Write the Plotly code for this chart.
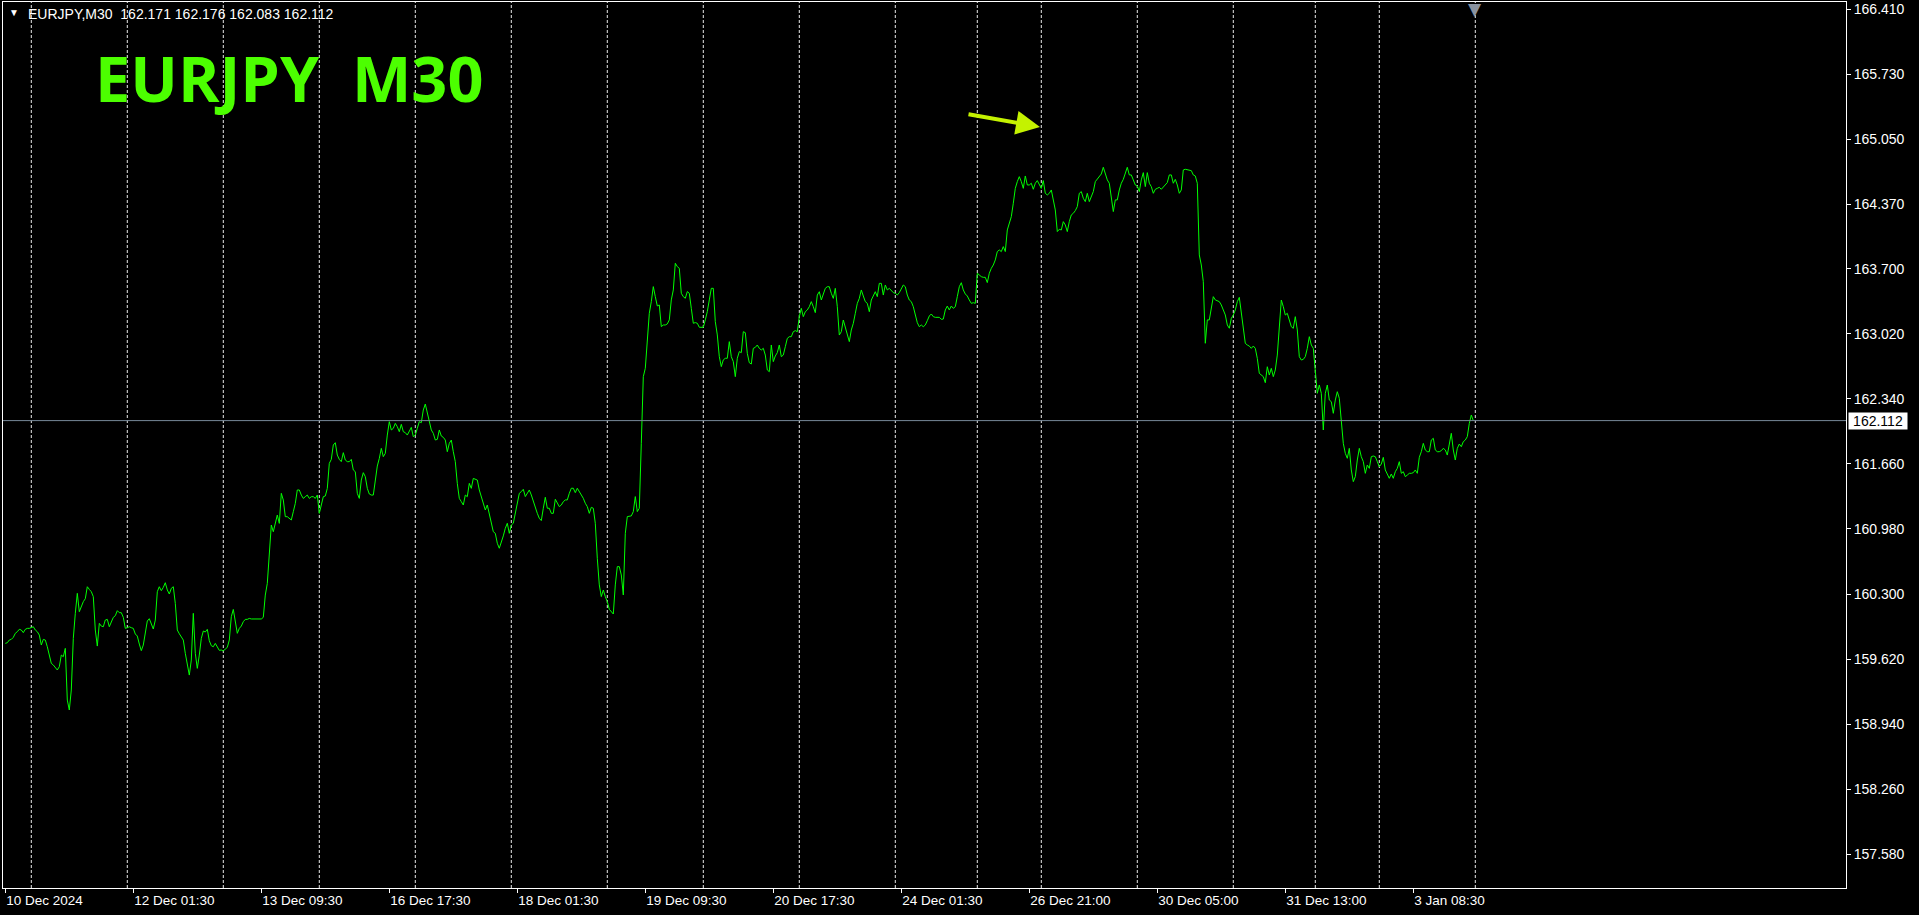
import plotly.graph_objects as go

# ---------------- data ----------------
symbol = "EURJPY"
timeframe = "M30"
last_open, last_high, last_low, last_close = 162.171, 162.176, 162.083, 162.112

# M30 closes, bar by bar (10 Dec 2024 17:30 -> 3 Jan 2025 23:30)
closes = [
    159.784, 159.791, 159.819, 159.826, 159.847, 159.889, 159.906, 159.931, 159.924, 159.896,
    159.931, 159.941, 159.941, 159.951, 159.958, 159.924, 159.906, 159.871, 159.767, 159.826,
    159.819, 159.749, 159.645, 159.575, 159.558, 159.530, 159.506, 159.540, 159.662, 159.645,
    159.732, 159.192, 159.088, 159.297, 159.836, 160.098, 160.307, 160.115, 160.167, 160.220,
    160.251, 160.376, 160.348, 160.324, 160.272, 159.924, 159.756, 159.993, 159.965, 159.958,
    160.028, 160.035, 159.958, 160.018, 160.056, 160.073, 160.126, 160.105, 160.105, 160.056,
    159.941, 159.948, 159.958, 159.948, 159.941, 159.882, 159.861, 159.777, 159.708, 159.767,
    159.917, 160.018, 160.042, 159.993, 159.934, 160.028, 160.324, 160.376, 160.335, 160.369,
    160.418, 160.342, 160.300, 160.359, 160.376, 160.202, 159.924, 159.885, 159.850, 159.819,
    159.680, 159.547, 159.453, 159.610, 160.098, 159.680, 159.523, 159.662, 159.836, 159.913,
    159.903, 159.931, 159.812, 159.760, 159.749, 159.784, 159.749, 159.711, 159.715, 159.704,
    159.725, 159.742, 159.819, 160.063, 160.139, 159.993, 159.889, 159.941, 159.965, 160.011,
    160.035, 160.035, 160.045,
    160.039, 160.039, 160.039, 160.039, 160.039, 160.039, 160.056, 160.289, 160.411, 160.767,
    161.021, 160.951, 161.056, 161.125, 161.038, 161.352, 161.282, 161.108, 161.108, 161.091,
    161.073, 161.160, 161.247, 161.387, 161.387, 161.334, 161.299, 161.317, 161.334, 161.299,
    161.317, 161.317, 161.299, 161.334, 161.143, 161.230, 161.317, 161.324, 161.404, 161.665,
    161.707, 161.857, 161.881, 161.752, 161.707, 161.683, 161.777, 161.700, 161.683, 161.683,
    161.707, 161.596, 161.578, 161.352, 161.299, 161.491, 161.568, 161.526, 161.404, 161.345,
    161.334, 161.334, 161.491, 161.637, 161.717, 161.822, 161.735, 161.770, 161.961, 162.101,
    162.014, 162.031, 162.083, 162.048, 161.996, 162.073, 161.996, 161.986, 161.961, 162.007,
    162.041, 161.944, 161.961, 162.031, 162.101, 162.090, 162.223, 162.285, 162.188, 162.118,
    162.014, 161.979, 161.909, 161.916, 162.014, 161.951, 161.937, 161.909, 161.787, 161.874,
    161.909, 161.787, 161.683, 161.456, 161.299, 161.265, 161.230, 161.334, 161.317, 161.456,
    161.404, 161.508, 161.498, 161.491, 161.387, 161.317, 161.247, 161.178, 161.230, 161.143,
    161.056, 160.951, 160.934,
    160.830, 160.778, 160.837, 160.907, 160.987, 161.039, 160.934, 161.021, 161.039, 161.143,
    161.213, 161.352, 161.370, 161.394, 161.318, 161.352, 161.387, 161.335, 161.265, 161.196,
    161.143, 161.091, 161.067, 161.196, 161.311, 161.196, 161.196, 161.143, 161.143, 161.290,
    161.248, 161.213, 161.230, 161.265, 161.283, 161.283, 161.352, 161.405, 161.405, 161.359,
    161.405, 161.370, 161.324, 161.300, 161.248, 161.213, 161.143, 161.206, 161.196, 161.039,
    160.673, 160.395, 160.273, 160.342, 160.273, 160.220, 160.140, 160.116, 160.091, 160.395,
    160.586, 160.586, 160.499, 160.290, 160.934, 161.109, 161.109, 161.116, 161.161, 161.318,
    161.161, 161.196, 161.875, 162.571, 162.658, 162.972, 163.233, 163.355, 163.512, 163.407,
    163.310, 163.320, 163.094, 163.111, 163.111, 163.122, 163.164, 163.373, 163.477, 163.756,
    163.721, 163.703, 163.442, 163.407, 163.390, 163.460, 163.442, 163.285, 163.129, 163.136,
    163.129, 163.087, 163.087, 163.087, 163.164, 163.251, 163.373, 163.494, 163.494, 163.146,
    163.007, 162.780, 162.676, 162.746, 162.763, 162.763, 162.937, 162.780, 162.728, 162.571,
    162.763, 162.833,
    162.822, 163.041, 163.031, 162.815, 162.717, 162.703, 162.867, 162.877, 162.902, 162.867,
    162.850, 162.867, 162.797, 162.641, 162.623, 162.902, 162.728, 162.787, 162.822, 162.902,
    162.780, 162.797, 162.884, 162.971, 162.989, 162.989, 163.041, 163.052, 163.041, 163.198,
    163.285, 163.198, 163.250, 163.268, 163.302, 163.355, 163.302, 163.240, 163.424, 163.459,
    163.372, 163.424, 163.494, 163.511, 163.511, 163.442, 163.389, 163.494, 163.302, 163.006,
    163.041, 163.163, 163.086, 163.024, 162.937, 163.059, 163.128, 163.233, 163.337, 163.389,
    163.477, 163.414, 163.355, 163.337, 163.250, 163.372, 163.424, 163.459, 163.407, 163.546,
    163.546, 163.424, 163.529, 163.477, 163.494, 163.470, 163.449, 163.442, 163.424, 163.449,
    163.494, 163.529, 163.511, 163.424, 163.372, 163.355, 163.302, 163.215, 163.135, 163.093,
    163.111, 163.093, 163.111, 163.156, 163.205, 163.226, 163.198, 163.191, 163.191, 163.191,
    163.170, 163.173, 163.268, 163.309, 163.268, 163.309, 163.285, 163.302, 163.407, 163.511,
    163.553, 163.477, 163.435, 163.414, 163.372, 163.337, 163.344, 163.337, 163.651, 163.633,
    163.616, 163.609, 163.609,
    163.554, 163.651, 163.703, 163.738, 163.791, 163.878, 163.895, 163.878, 163.930, 163.878,
    164.104, 164.174, 164.243, 164.383, 164.539, 164.609, 164.661, 164.609, 164.539, 164.668,
    164.574, 164.574, 164.592, 164.529, 164.592, 164.620, 164.574, 164.539, 164.620, 164.487,
    164.470, 164.487, 164.522, 164.400, 164.313, 164.087, 164.111, 164.104, 164.191, 164.156,
    164.087, 164.191, 164.261, 164.278, 164.306, 164.348, 164.487, 164.505, 164.435, 164.400,
    164.487, 164.400, 164.452, 164.505, 164.609, 164.633, 164.661, 164.689, 164.759, 164.679,
    164.627, 164.592, 164.435, 164.296, 164.418, 164.418, 164.522, 164.592, 164.633, 164.696,
    164.759, 164.679, 164.679, 164.627, 164.574, 164.564, 164.505, 164.627, 164.703, 164.557,
    164.703, 164.592, 164.557, 164.487, 164.529, 164.539, 164.550, 164.529, 164.550, 164.574,
    164.599, 164.679, 164.679, 164.592, 164.633, 164.574, 164.487, 164.522, 164.731, 164.738,
    164.731, 164.731, 164.724, 164.679, 164.668, 164.592, 163.843, 163.738, 163.564, 162.920,
    163.164, 163.164, 163.303, 163.407, 163.373, 163.366, 163.355, 163.320, 163.275, 163.216,
    163.111, 163.077,
    163.180, 163.215, 163.268, 163.355, 163.400, 163.233, 163.076, 162.919, 162.902, 162.891,
    162.867, 162.891, 162.867, 162.762, 162.606, 162.588, 162.571, 162.508, 162.675, 162.588,
    162.658, 162.571, 162.641, 162.797, 163.128, 163.372, 163.302, 163.215, 163.233, 163.163,
    163.093, 163.076, 163.198, 163.059, 162.780, 162.745, 162.752, 162.780, 162.867, 162.989,
    162.902, 162.867, 162.641, 162.397, 162.484, 162.397, 162.014, 162.397, 162.484, 162.327,
    162.310, 162.188, 162.327, 162.414, 162.345, 162.136, 161.874, 161.770, 161.718, 161.822,
    161.596, 161.474, 161.526, 161.700, 161.822, 161.735, 161.683, 161.561, 161.648, 161.613,
    161.735, 161.742, 161.735, 161.683, 161.630, 161.658, 161.728, 161.596, 161.543, 161.509,
    161.554, 161.509, 161.578, 161.613, 161.683, 161.561, 161.578, 161.526, 161.543, 161.561,
    161.561, 161.568, 161.596, 161.561, 161.728, 161.787, 161.874, 161.805, 161.787, 161.787,
    161.909, 161.927, 161.805, 161.787, 161.787, 161.798, 161.822, 161.805, 161.752, 161.857,
    161.979, 161.805, 161.700, 161.822, 161.867, 161.839, 161.892, 161.909, 161.944, 162.083,
    162.170, 162.112,
]
bar_index = list(range(len(closes)))

time_tick_bars = [0, 64, 128, 192, 256, 320, 384, 448, 512, 576, 640, 704]
time_tick_labels = ["10 Dec 2024", "12 Dec 01:30", "13 Dec 09:30", "16 Dec 17:30",
                    "18 Dec 01:30", "19 Dec 09:30", "20 Dec 17:30", "24 Dec 01:30",
                    "26 Dec 21:00", "30 Dec 05:00", "31 Dec 13:00", "3 Jan 08:30"]

day_separator_bars = [13, 61, 109, 157, 205, 253, 301, 349, 397, 445, 486, 518,
                      566, 614, 655, 687, 735]

price_ticks = [166.410, 165.730, 165.050, 164.370, 163.700, 163.020, 162.340,
               161.660, 160.980, 160.300, 159.620, 158.940, 158.260, 157.580]
price_tick_labels = ["166.410", "165.730", "165.050", "164.370", "163.700", "163.020",
                     "162.340", "161.660", "160.980", "160.300", "159.620", "158.940",
                     "158.260", "157.580"]

x_range = [-1.15, 920.35]
y_range = [157.228, 166.486]

# ---------------- figure ----------------
W, H = 1919, 915
ML, MR, MT, MB = 3, 73, 2, 27
PW, PH = W - ML - MR, H - MT - MB


def px_x(px):
    return (px - ML) / PW


def px_y(py):
    return (H - MB - py) / PH


AXFONT = "Liberation Sans, Arial, sans-serif"

fig = go.Figure()
fig.add_trace(go.Scatter(
    x=bar_index, y=closes, mode="lines",
    line=dict(color="#00ff00", width=1),
    hoverinfo="skip", showlegend=False,
))

shapes = []
for b in day_separator_bars:
    shapes.append(dict(type="line", xref="x", yref="paper", x0=b, x1=b, y0=0, y1=1,
                       line=dict(color="#e8e8e8", width=1, dash="3px,2px"), layer="below"))
shapes.append(dict(type="line", xref="paper", yref="y", x0=0, x1=1,
                   y0=last_close, y1=last_close,
                   line=dict(color="#778899", width=1)))

annotations = [
    dict(xref="paper", yref="paper", x=px_x(13.5), y=px_y(12), text="▼",
         showarrow=False, xanchor="center", yanchor="middle",
         font=dict(family=AXFONT, size=10, color="#ffffff")),
    dict(xref="paper", yref="paper", x=px_x(26), y=px_y(14),
         text=f"{symbol},{timeframe}\u00a0\u00a0{last_open:.3f} {last_high:.3f} {last_low:.3f} {last_close:.3f}",
         showarrow=False, xanchor="left", yanchor="middle",
         font=dict(family=AXFONT, size=14, color="#ffffff")),
    dict(xref="paper", yref="paper", x=px_x(93), y=px_y(78),
         text=f"<b>{symbol}\u00a0\u00a0{timeframe}</b>",
         showarrow=False, xanchor="left", yanchor="middle",
         font=dict(family="Open Sans, sans-serif", size=63, color="#4cff00")),
    dict(xref="paper", yref="paper", x=px_x(1040), y=px_y(127), text="",
         showarrow=True, arrowhead=2, arrowsize=1.2, arrowwidth=4,
         arrowcolor="#c4f200", ax=-73, ay=-13, standoff=0),
    dict(xref="paper", yref="y", x=1, y=last_close, text=f"{last_close:.3f}",
         showarrow=False, xanchor="left", yanchor="middle", xshift=2,
         bgcolor="#ffffff", width=58, height=16, borderpad=0,
         font=dict(family=AXFONT, size=14, color="#000000")),
    dict(xref="x", yref="paper", x=735, y=1, text="▼", showarrow=False,
         xanchor="center", yanchor="top", yshift=5,
         font=dict(family="DejaVu Sans, sans-serif", size=17, color="#8a93a0")),
]

fig.update_layout(
    width=W, height=H,
    margin=dict(l=ML, r=MR, t=MT, b=MB, pad=0),
    paper_bgcolor="#000000", plot_bgcolor="#000000",
    showlegend=False, hovermode=False,
    shapes=shapes, annotations=annotations,
    xaxis=dict(range=x_range, showgrid=False, zeroline=False,
               showline=True, mirror=True, linecolor="#ffffff", linewidth=1,
               ticks="outside", ticklen=4, tickcolor="#ffffff", tickwidth=1,
               tickvals=time_tick_bars, ticktext=time_tick_labels,
               ticklabelposition="outside right",
               tickfont=dict(family=AXFONT, size=13.5, color="#ffffff"),
               fixedrange=True),
    yaxis=dict(range=y_range, side="right", showgrid=False, zeroline=False,
               showline=True, mirror=True, linecolor="#ffffff", linewidth=1,
               ticks="outside", ticklen=4, tickcolor="#ffffff", tickwidth=1,
               tickvals=price_ticks, ticktext=price_tick_labels,
               tickfont=dict(family=AXFONT, size=14, color="#ffffff"),
               fixedrange=True),
)

fig.write_html(
    "out.html",
    config={"displayModeBar": False, "staticPlot": True},
    post_script="document.body.style.margin='0';document.body.style.overflow='hidden';document.body.style.background='#000';",
)
